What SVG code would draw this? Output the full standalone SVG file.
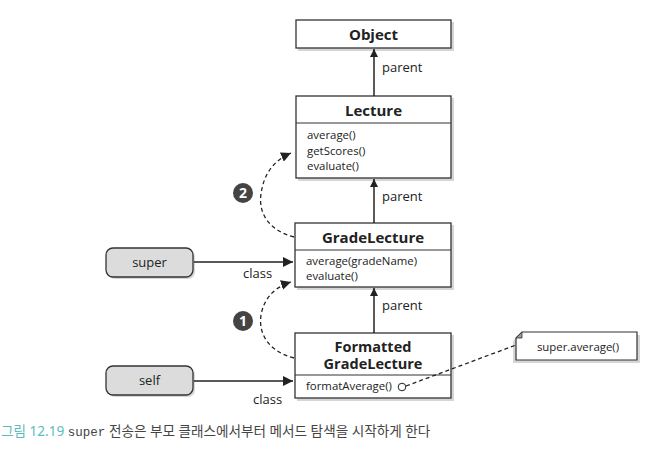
<svg xmlns="http://www.w3.org/2000/svg" width="656" height="450" viewBox="0 0 656 450">
<style>
.box{fill:#fff;stroke:#333;stroke-width:1.3}
.shadow{fill:#bbb;opacity:0.6}
.div{stroke:#333;stroke-width:1}
.title{font-family:"Open Sans","Noto Sans",sans-serif;font-weight:bold;font-size:15px;fill:#222;text-anchor:middle}
.meth{font-family:"Open Sans","Noto Sans",sans-serif;font-size:11.4px;fill:#222}
.lbl{font-family:"Open Sans","Noto Sans",sans-serif;font-size:13px;fill:#222}
.pill{fill:#dcdcdc;stroke:#333;stroke-width:1.3}
.line{stroke:#222;stroke-width:1.5;fill:none}
.dash{stroke:#222;stroke-width:1.3;fill:none;stroke-dasharray:4 3}
.num{fill:#444}
.numt{font-family:"Open Sans","Noto Sans",sans-serif;font-weight:bold;font-size:14px;fill:#fff;text-anchor:middle}
</style>
<defs>
<marker id="ah" viewBox="0 0 10 10" refX="10" refY="5" markerWidth="8" markerHeight="8" markerUnits="userSpaceOnUse" orient="auto">
<path d="M0,0 L10,5 L0,10 z" fill="#222"/>
</marker>
<marker id="ahb" viewBox="0 0 10 10" refX="10" refY="5" markerWidth="10" markerHeight="10" markerUnits="userSpaceOnUse" orient="auto">
<path d="M0,0 L10,5 L0,10 z" fill="#222"/>
</marker>
</defs>

<g id="Object">
<rect class="shadow" x="298" y="22" width="156" height="29"/>
<rect class="box" x="296" y="20" width="155" height="28"/>
<text class="title" x="373.5" y="39.5">Object</text>
</g>

<g id="Lecture">
<rect class="shadow" x="298" y="98" width="156" height="83"/>
<rect class="box" x="296" y="96" width="155" height="82"/>
<text class="title" x="373.5" y="116">Lecture</text>
<line class="div" x1="296" y1="123" x2="451" y2="123"/>
<text class="meth" x="307" y="139">average()</text>
<text class="meth" x="307" y="155">getScores()</text>
<text class="meth" x="307" y="170">evaluate()</text>
</g>

<g id="GradeLecture">
<rect class="shadow" x="297" y="225" width="157" height="65"/>
<rect class="box" x="295" y="223" width="156" height="64"/>
<text class="title" x="373" y="243">GradeLecture</text>
<line class="div" x1="295" y1="250" x2="451" y2="250"/>
<text class="meth" x="306" y="265">average(gradeName)</text>
<text class="meth" x="306" y="280">evaluate()</text>
</g>

<g id="FormattedGradeLecture">
<rect class="shadow" x="297" y="335" width="157" height="66"/>
<rect class="box" x="295" y="333" width="156" height="65"/>
<text class="title" x="373" y="351.5" style="font-size:14.5px">Formatted</text>
<text class="title" x="373" y="369" style="font-size:14.5px">GradeLecture</text>
<line class="div" x1="295" y1="375" x2="451" y2="375"/>
<text class="meth" x="306" y="390">formatAverage()</text>
<circle cx="402" cy="387" r="3.8" fill="#fff" stroke="#222" stroke-width="1"/>
</g>

<g id="super">
<rect class="shadow" x="108" y="250" width="87" height="29" rx="7"/>
<rect class="pill" x="106" y="248" width="87" height="29" rx="7"/>
<text class="lbl" x="149.5" y="267" text-anchor="middle">super</text>
</g>

<g id="self">
<rect class="shadow" x="108" y="368" width="87" height="29" rx="7"/>
<rect class="pill" x="106" y="366" width="87" height="29" rx="7"/>
<text class="lbl" x="149.5" y="385" text-anchor="middle">self</text>
</g>

<g id="note">
<path class="shadow" d="M519,335 h121 v28 h-127 v-22 z"/>
<path d="M522,332 h115 v28 h-121 v-22 z" fill="#fff" stroke="#333" stroke-width="1.2"/>
<path d="M516,338 L522,332 L522,338 z" fill="#999" stroke="#333" stroke-width="0.8"/>
<text class="meth" x="578" y="351" text-anchor="middle">super.average()</text>
</g>

<g id="connectors">
<line class="line" x1="374" y1="96" x2="374" y2="49" marker-end="url(#ah)"/>
<text class="lbl" x="382" y="72">parent</text>
<line class="line" x1="374" y1="223" x2="374" y2="179" marker-end="url(#ah)"/>
<text class="lbl" x="382" y="201">parent</text>
<line class="line" x1="374" y1="333" x2="374" y2="288" marker-end="url(#ah)"/>
<text class="lbl" x="382" y="310">parent</text>

<line class="line" x1="194" y1="262" x2="293" y2="262" marker-end="url(#ahb)"/>
<text class="lbl" x="243" y="278">class</text>
<line class="line" x1="194" y1="381" x2="293" y2="381" marker-end="url(#ahb)"/>
<text class="lbl" x="253" y="404">class</text>

<path class="dash" d="M294,358 C270,352 258,335 261,315 C264,298 275,287 291,282" marker-end="url(#ahb)"/>
<path class="dash" d="M294,237 C270,231 258,214 261,194 C264,172 275,160 291,153" marker-end="url(#ahb)"/>

<path class="dash" d="M406,386 L516,345"/>

<circle class="num" cx="243" cy="321" r="10"/>
<text class="numt" x="243" y="326">1</text>
<circle class="num" cx="243" cy="193" r="10"/>
<text class="numt" x="243" y="198">2</text>
</g>

<g id="caption">
<text x="1" y="436" font-family="'Noto Sans','Noto Sans CJK KR',sans-serif" font-size="13.6" fill="#444"><tspan fill="#5bbcbf">그림 12.19</tspan> <tspan font-family="'Liberation Mono',monospace" font-size="12.5">super</tspan> 전송은 부모 클래스에서부터 메서드 탐색을 시작하게 한다</text>
</g>
</svg>
